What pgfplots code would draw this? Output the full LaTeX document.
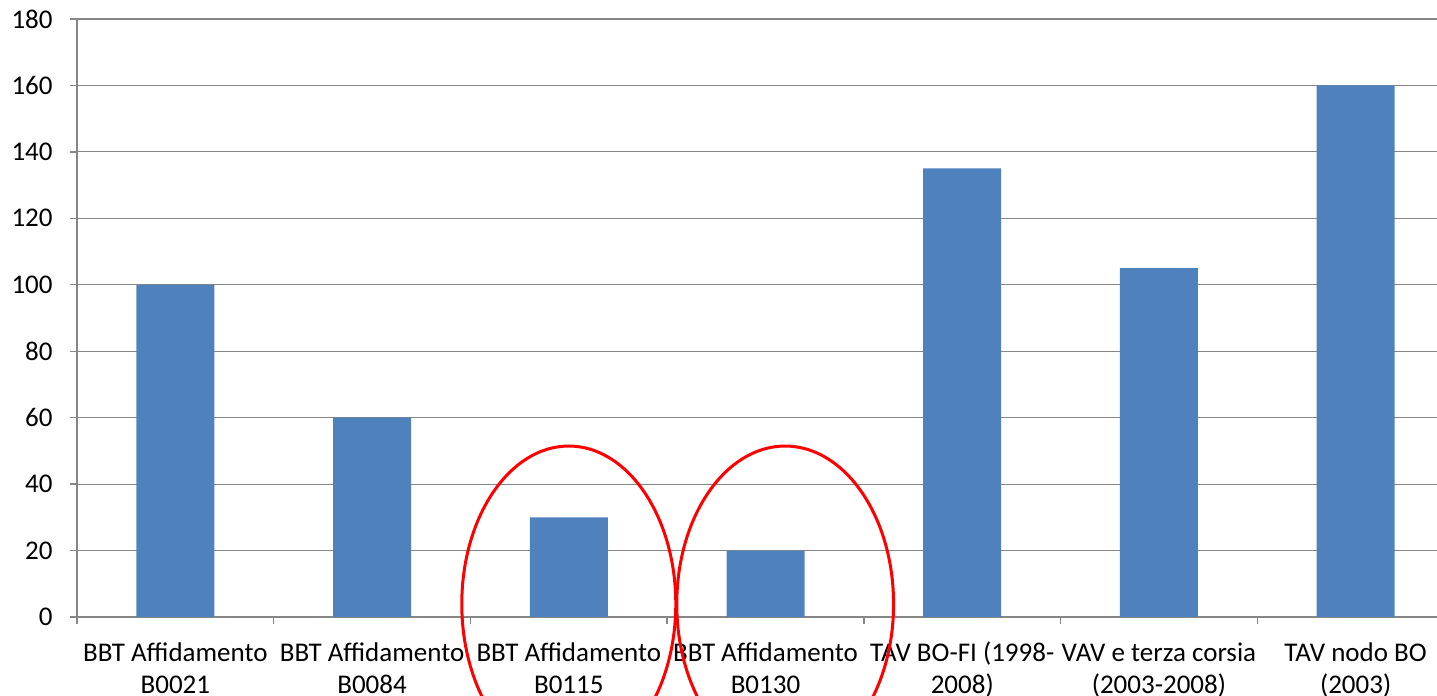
\documentclass[border=0pt]{standalone}
\usepackage{pgfplots}
\pgfplotsset{compat=1.18}
\usepackage{fontspec}
\setmainfont{Carlito}
\definecolor{barblue}{HTML}{4F81BD}
\definecolor{axgray}{HTML}{868686}
\begin{document}
\fontsize{13.5}{16.2}\selectfont
\begin{tikzpicture}
\begin{axis}[
  at={(0,0)}, anchor=south west,
  scale only axis, width=688.5pt, height=299pt,
  ymin=0, ymax=180, ytick={0,20,...,180},
  xmin=-0.5, xmax=6.5,
  xtick={-0.5,0.5,...,6.5}, xticklabels={},
  extra x ticks={0,1,2,3,4,5,6},
  extra x tick labels={{\strut BBT Affidamento\\B0021},{\strut BBT Affidamento\\B0084},{\strut BBT Affidamento\\B0115},{\strut BBT Affidamento\\B0130},{\strut TAV BO-FI (1998-\\2008)},{\strut VAV e terza corsia\\(2003-2008)},{\strut TAV nodo BO\\(2003)}},
  extra x tick style={major tick length=0pt, grid=none},
  axis x line*=bottom, axis y line*=left,
  axis line style={-, draw=axgray, line width=0.7pt},
  tick style={draw=axgray, line width=0.7pt},
  tick align=outside, major tick length=3.5pt,
  ymajorgrids, grid style={draw=axgray, line width=0.6pt},
  xticklabel style={align=center, font=\fontsize{13.5}{16.2}\selectfont, inner sep=0pt, yshift=-10.5pt},
  yticklabel style={font=\fontsize{13.5}{16.2}\selectfont, xshift=-4pt},
  /pgf/number format/assume math mode=true,
  clip=false,
  ybar, bar width=39pt,
]
\addplot[fill=barblue, draw=none] coordinates {(0,100) (1,60) (2,30) (3,20) (4,135) (5,105) (6,160)};
\draw[red, line width=1.5pt] (axis cs:2.0,3.9) ellipse [x radius=53.5pt, y radius=79pt];
\draw[red, line width=1.5pt] (axis cs:3.1,3.9) ellipse [x radius=54.2pt, y radius=79pt];
\end{axis}
\pgfresetboundingbox
\path[use as bounding box] (-38.5pt,-39.5pt) rectangle (680pt,308.5pt);
\end{tikzpicture}
\end{document}
